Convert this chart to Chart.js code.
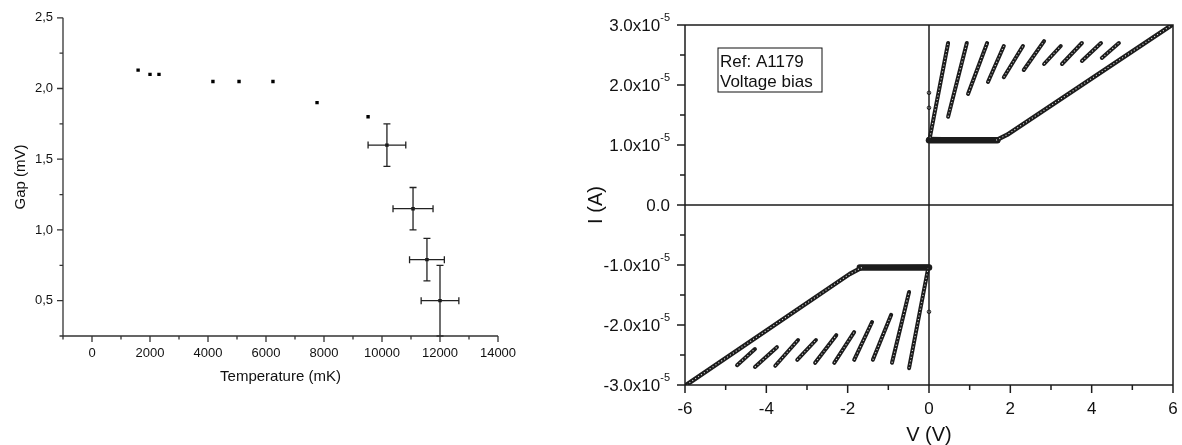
<!DOCTYPE html>
<html>
<head>
<meta charset="utf-8">
<script src="https://cdn.jsdelivr.net/npm/chart.js@4.4.1/dist/chart.umd.min.js"></script>
<style>
  body { margin: 0; background: #fff; width: 1182px; height: 445px; overflow: hidden; position: relative; }
  #gapChart { position: absolute; left: 0; top: 0; }
  #ivChart { position: absolute; left: 560px; top: 0; }
</style>
</head>
<body>
<canvas id="gapChart" width="560" height="445"></canvas>
<canvas id="ivChart" width="622" height="445"></canvas>
<script>
// ---- left panel: gap vs temperature ----
const temperature    = [1590, 2000, 2310, 4170, 5070, 6240, 7760, 9520, 10170, 11070, 11550, 12000];
const gap            = [2.13, 2.10, 2.10, 2.05, 2.05, 2.05, 1.90, 1.80, 1.60, 1.15, 0.79, 0.50];
const temperatureErr = [0, 0, 0, 0, 0, 0, 0, 0, 650, 690, 600, 650];
const gapErr         = [0, 0, 0, 0, 0, 0, 0, 0, 0.15, 0.15, 0.15, 0.25];
const temperatureTicks = [0, 2000, 4000, 6000, 8000, 10000, 12000, 14000];
const gapTicks         = [0.5, 1.0, 1.5, 2.0, 2.5];
const gapTickLabels    = ['0,5', '1,0', '1,5', '2,0', '2,5'];

// ---- right panel: I-V curve ----
const voltageTicks      = [-6, -4, -2, 0, 2, 4, 6];
const currentTicks      = [-3e-5, -2e-5, -1e-5, 0, 1e-5, 2e-5, 3e-5];
const currentTickLabels = ['-3.0x10', '-2.0x10', '-1.0x10', '0.0', '1.0x10', '2.0x10', '3.0x10'];
const currentTickExp    = ['-5', '-5', '-5', '', '-5', '-5', '-5'];

// resistive branches
const upperCurveV = [0.00, 1.65, 1.92, 5.95];
const upperCurveI = [1.10e-5, 1.08e-5, 1.17e-5, 2.99e-5];
const lowerCurveV = [0.00, -1.65, -1.95, -5.95];
const lowerCurveI = [-1.03e-5, -1.04e-5, -1.15e-5, -2.99e-5];
// flat part (many overlapping sweeps)
const upperPlateauV = [0.00, 1.68];
const upperPlateauI = [1.08e-5, 1.08e-5];
const lowerPlateauV = [0.00, -1.70];
const lowerPlateauI = [-1.04e-5, -1.04e-5];

// switching branches: start (V0, I0) -> end (V1, I1)
const upperBranchV0 = [0.02, 0.47, 0.96, 1.45, 1.84, 2.33, 2.83, 3.27, 3.76, 4.25];
const upperBranchV1 = [0.47, 0.93, 1.43, 1.84, 2.31, 2.83, 3.24, 3.76, 4.23, 4.67];
const upperBranchI0 = [1.12e-5, 1.47e-5, 1.85e-5, 2.05e-5, 2.13e-5, 2.25e-5, 2.35e-5, 2.35e-5, 2.40e-5, 2.45e-5];
const upperBranchI1 = [2.70e-5, 2.70e-5, 2.70e-5, 2.65e-5, 2.65e-5, 2.73e-5, 2.65e-5, 2.70e-5, 2.70e-5, 2.70e-5];
const lowerBranchV0 = [-4.72, -4.28, -3.78, -3.24, -2.80, -2.33, -1.84, -1.38, -0.91, -0.49];
const lowerBranchV1 = [-4.28, -3.74, -3.22, -2.78, -2.28, -1.84, -1.40, -0.93, -0.49, -0.02];
const lowerBranchI0 = [-2.67e-5, -2.70e-5, -2.68e-5, -2.58e-5, -2.63e-5, -2.63e-5, -2.58e-5, -2.58e-5, -2.63e-5, -2.72e-5];
const lowerBranchI1 = [-2.40e-5, -2.37e-5, -2.25e-5, -2.25e-5, -2.17e-5, -2.12e-5, -1.95e-5, -1.83e-5, -1.45e-5, -1.05e-5];

// stray points on V = 0
const strayV = [0, 0, 0];
const strayI = [1.87e-5, 1.62e-5, -1.78e-5];

Chart.defaults.font.family = '"Liberation Sans", Arial, sans-serif';
Chart.defaults.color = '#111';

// axes, minor/major ticks, optional box + zero lines, axis titles
const frame = {
  id: 'frame',
  afterDatasetsDraw(chart, args, o) {
    const { ctx, chartArea: a, scales: { x, y } } = chart;
    ctx.save();
    ctx.strokeStyle = o.color;
    ctx.lineWidth = o.lineWidth;
    ctx.beginPath();
    ctx.moveTo(a.left, a.top);
    ctx.lineTo(a.left, a.bottom);
    ctx.lineTo(a.right, a.bottom);
    if (o.box) {
      ctx.lineTo(a.right, a.top);
      ctx.lineTo(a.left, a.top);
    }
    if (o.zeroLines) {
      const zx = x.getPixelForValue(0), zy = y.getPixelForValue(0);
      ctx.moveTo(zx, a.top); ctx.lineTo(zx, a.bottom);
      ctx.moveTo(a.left, zy); ctx.lineTo(a.right, zy);
    }
    const n = (s, step) => Math.round((s.max - s.min) / step);
    for (let k = 0; k <= n(x, o.xMinor); k++) {
      const p = x.getPixelForValue(x.min + k * o.xMinor);
      ctx.moveTo(p, a.bottom); ctx.lineTo(p, a.bottom + o.minorLen);
    }
    for (let k = 0; k <= n(y, o.yMinor); k++) {
      const p = y.getPixelForValue(y.min + k * o.yMinor);
      ctx.moveTo(a.left, p); ctx.lineTo(a.left - o.minorLen, p);
    }
    x.ticks.forEach(t => {
      const p = x.getPixelForValue(t.value);
      ctx.moveTo(p, a.bottom); ctx.lineTo(p, a.bottom + o.majorLen);
    });
    y.ticks.forEach(t => {
      const p = y.getPixelForValue(t.value);
      ctx.moveTo(a.left, p); ctx.lineTo(a.left - o.majorLen, p);
    });
    ctx.stroke();

    ctx.fillStyle = '#111';
    ctx.textAlign = 'center';
    ctx.textBaseline = 'middle';
    ctx.font = o.titleFont;
    ctx.fillText(o.xTitle, (a.left + a.right) / 2, o.xTitleY);
    ctx.save();
    ctx.translate(o.yTitleX, (a.top + a.bottom) / 2);
    ctx.rotate(-Math.PI / 2);
    ctx.fillText(o.yTitle, 0, 0);
    ctx.restore();
    ctx.restore();
  }
};

const errorBars = {
  id: 'errorBars',
  afterDatasetsDraw(chart, args, o) {
    const { ctx, scales: { x, y } } = chart;
    ctx.save();
    ctx.strokeStyle = o.color;
    ctx.lineWidth = o.width;
    ctx.beginPath();
    temperature.forEach((t, i) => {
      const px = x.getPixelForValue(t), py = y.getPixelForValue(gap[i]);
      if (temperatureErr[i]) {
        const l = x.getPixelForValue(t - temperatureErr[i]);
        const r = x.getPixelForValue(t + temperatureErr[i]);
        ctx.moveTo(l, py); ctx.lineTo(r, py);
        ctx.moveTo(l, py - o.cap); ctx.lineTo(l, py + o.cap);
        ctx.moveTo(r, py - o.cap); ctx.lineTo(r, py + o.cap);
      }
      if (gapErr[i]) {
        const top = y.getPixelForValue(gap[i] + gapErr[i]);
        const bot = y.getPixelForValue(gap[i] - gapErr[i]);
        ctx.moveTo(px, top); ctx.lineTo(px, bot);
        ctx.moveTo(px - o.cap, top); ctx.lineTo(px + o.cap, top);
        ctx.moveTo(px - o.cap, bot); ctx.lineTo(px + o.cap, bot);
      }
    });
    ctx.stroke();
    ctx.restore();
  }
};

// keep the plot edges where they are, whatever the edge labels need
const noEdgePad = s => { s.paddingLeft = 0; s.paddingRight = 0; };

new Chart(document.getElementById('gapChart'), {
  type: 'scatter',
  data: {
    datasets: [{
      data: temperature.map((t, i) => ({ x: t, y: gap[i] })),
      pointStyle: 'rect',
      pointRadius: 2.4,
      pointBorderWidth: 0,
      backgroundColor: '#000'
    }]
  },
  options: {
    responsive: false,
    animation: false,
    layout: { padding: { left: 0, right: 62, top: 14, bottom: 0 } },
    plugins: {
      legend: { display: false },
      tooltip: { enabled: false },
      frame: {
        color: '#333', lineWidth: 1.3, majorLen: 6, minorLen: 3.5,
        xMinor: 1000, yMinor: 0.25,
        xTitle: 'Temperature (mK)', xTitleY: 377,
        yTitle: 'Gap (mV)', yTitleX: 21,
        titleFont: '15px "Liberation Sans", Arial, sans-serif'
      },
      errorBars: { color: '#222', width: 1.3, cap: 3.5 }
    },
    scales: {
      x: {
        type: 'linear', min: -1000, max: 14000,
        afterBuildTicks: s => { s.ticks = temperatureTicks.map(v => ({ value: v })); },
        afterFit: s => { s.height = 109; noEdgePad(s); },
        grid: { display: false, drawTicks: false },
        border: { display: false },
        ticks: { font: { size: 13 }, padding: 10, maxRotation: 0, callback: v => String(v) }
      },
      y: {
        type: 'linear', min: 0.25, max: 2.5,
        afterBuildTicks: s => { s.ticks = gapTicks.map(v => ({ value: v })); },
        afterFit: s => { s.width = 63; },
        grid: { display: false, drawTicks: false },
        border: { display: false },
        ticks: { font: { size: 13 }, padding: 10, callback: (v, i) => gapTickLabels[i] }
      }
    }
  },
  plugins: [errorBars, frame]
});

// y labels of the I-V panel with the exponent raised, plus the note box
const sciLabels = {
  id: 'sciLabels',
  afterDraw(chart, args, o) {
    const { ctx, scales: { y } } = chart;
    ctx.save();
    ctx.fillStyle = '#111';
    ctx.textBaseline = 'middle';
    ctx.textAlign = 'right';
    currentTicks.forEach((v, i) => {
      const py = y.getPixelForValue(v) + 1;
      let right = o.right;
      if (currentTickExp[i]) {
        ctx.font = o.expFont;
        ctx.fillText(currentTickExp[i], right, py - 8);
        right -= ctx.measureText(currentTickExp[i]).width;
      }
      ctx.font = o.font;
      ctx.fillText(currentTickLabels[i], right, py);
    });
    ctx.strokeStyle = '#111';
    ctx.lineWidth = 1;
    ctx.strokeRect(o.box.x, o.box.y, o.box.w, o.box.h);
    ctx.textAlign = 'left';
    ctx.textBaseline = 'alphabetic';
    ctx.font = o.font;
    o.box.lines.forEach((t, k) => ctx.fillText(t, o.box.x + 2, o.box.y + 19 + k * 20));
    ctx.restore();
  }
};

const ink = '#1c1c1c';
function trace(vs, is, width) {
  return {
    data: vs.map((v, k) => ({ x: v, y: is[k] })),
    showLine: true, borderColor: ink, borderWidth: width,
    borderCapStyle: 'round', borderJoinStyle: 'round',
    pointRadius: 0, order: 2
  };
}
// white dotted core so the trace reads as a chain of small open circles
function rings(vs, is) {
  return {
    data: vs.map((v, k) => ({ x: v, y: is[k] })),
    showLine: true, borderColor: 'rgba(255,255,255,0.85)', borderWidth: 1.1,
    borderDash: [1.1, 2.4], pointRadius: 0, order: 1
  };
}

const ivSets = [];
ivSets.push(trace(upperPlateauV, upperPlateauI, 6.5), trace(lowerPlateauV, lowerPlateauI, 6.5));
ivSets.push(trace(upperCurveV, upperCurveI, 4.5), rings(upperCurveV.slice(1), upperCurveI.slice(1)));
ivSets.push(trace(lowerCurveV, lowerCurveI, 4.5), rings(lowerCurveV.slice(1), lowerCurveI.slice(1)));
upperBranchV0.forEach((v, k) => {
  const vs = [v, upperBranchV1[k]], is = [upperBranchI0[k], upperBranchI1[k]];
  ivSets.push(trace(vs, is, 4), rings(vs, is));
});
lowerBranchV0.forEach((v, k) => {
  const vs = [v, lowerBranchV1[k]], is = [lowerBranchI0[k], lowerBranchI1[k]];
  ivSets.push(trace(vs, is, 4), rings(vs, is));
});
ivSets.push({
  data: strayV.map((v, k) => ({ x: v, y: strayI[k] })),
  pointRadius: 1.8, pointBorderWidth: 1, borderColor: ink, backgroundColor: '#fff', order: 0
});

new Chart(document.getElementById('ivChart'), {
  type: 'scatter',
  data: { datasets: ivSets },
  options: {
    responsive: false,
    animation: false,
    layout: { padding: { left: 0, right: 9, top: 25, bottom: 0 } },
    plugins: {
      legend: { display: false },
      tooltip: { enabled: false },
      frame: {
        color: '#1c1c1c', lineWidth: 1.5, majorLen: 8, minorLen: 5,
        xMinor: 1, yMinor: 0.5e-5, box: true, zeroLines: true,
        xTitle: 'V (V)', xTitleY: 435,
        yTitle: 'I (A)', yTitleX: 36,
        titleFont: '20px "Liberation Sans", Arial, sans-serif'
      },
      sciLabels: {
        right: 110,
        font: '17px "Liberation Sans", Arial, sans-serif',
        expFont: '11px "Liberation Sans", Arial, sans-serif',
        box: { x: 158, y: 48, w: 104, h: 44, lines: ['Ref: A1179', 'Voltage bias'] }
      }
    },
    scales: {
      x: {
        type: 'linear', min: -6, max: 6,
        afterBuildTicks: s => { s.ticks = voltageTicks.map(v => ({ value: v })); },
        afterFit: s => { s.height = 60; noEdgePad(s); },
        grid: { display: false, drawTicks: false },
        border: { display: false },
        ticks: { font: { size: 17 }, padding: 14, maxRotation: 0, callback: v => String(v) }
      },
      y: {
        type: 'linear', min: -3e-5, max: 3e-5,
        afterBuildTicks: s => { s.ticks = currentTicks.map(v => ({ value: v })); },
        afterFit: s => { s.width = 125; },
        grid: { display: false, drawTicks: false },
        border: { display: false },
        ticks: { display: false }
      }
    }
  },
  plugins: [frame, sciLabels]
});
</script>
</body>
</html>
